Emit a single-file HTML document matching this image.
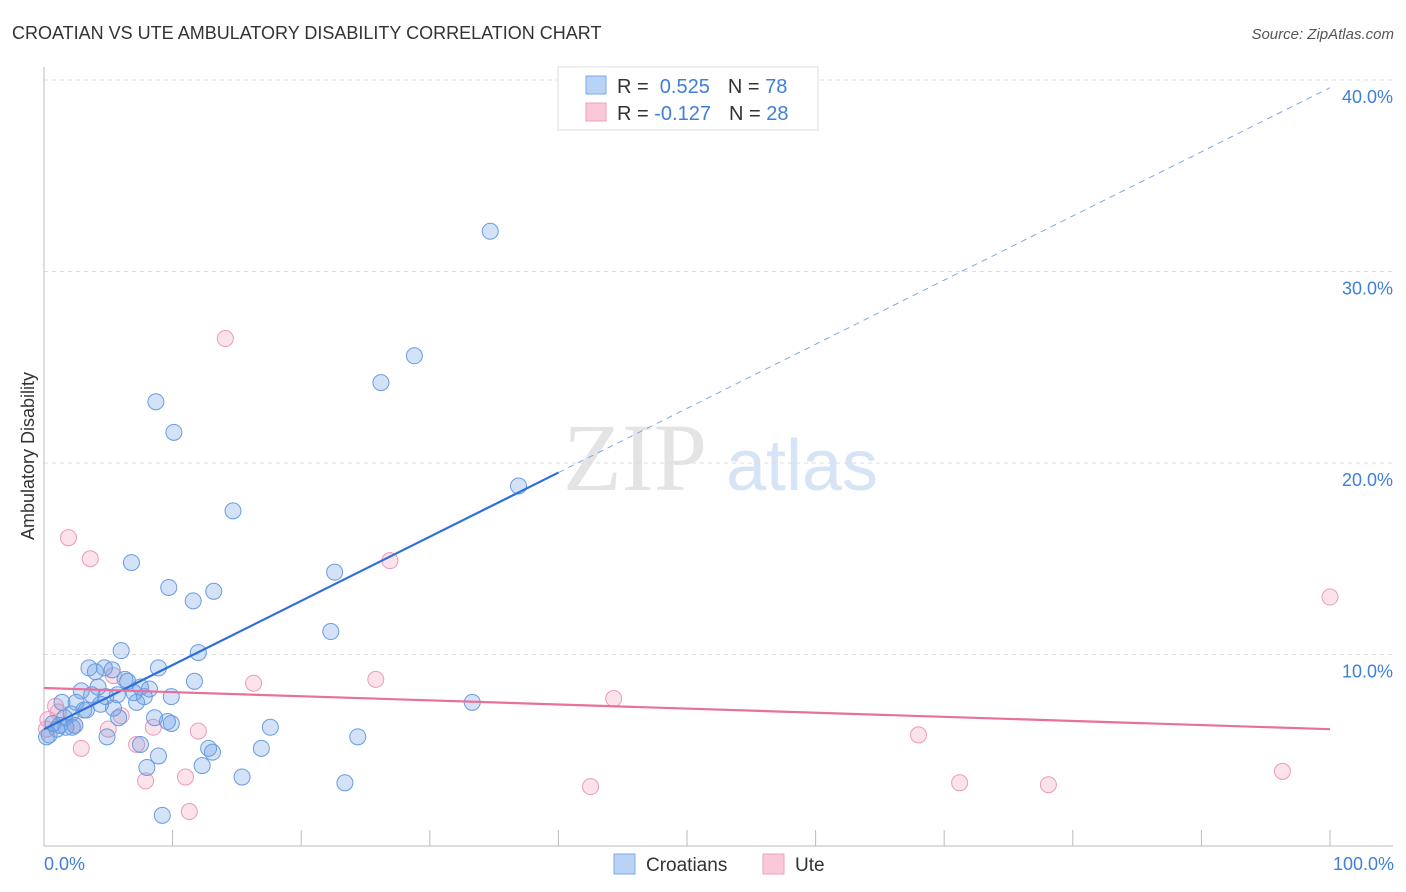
<!DOCTYPE html>
<html><head><meta charset="utf-8"><style>
body{margin:0;background:#fff;font-family:"Liberation Sans",sans-serif;}
svg{display:block}
</style></head><body>
<svg id="chart" width="1406" height="892" xmlns="http://www.w3.org/2000/svg">
<text x="12" y="39" font-size="18" fill="#333">CROATIAN VS UTE AMBULATORY DISABILITY CORRELATION CHART</text>
<text x="1394" y="39" font-size="15" fill="#555" font-style="italic" text-anchor="end">Source: ZipAtlas.com</text>
<g>
<text x="635" y="490" font-family="Liberation Serif,serif" font-size="96" fill="#e4e4e4" text-anchor="middle">ZIP</text>
<text x="802" y="490" font-size="72" fill="#d6e4f5" text-anchor="middle">atlas</text>
</g>
<g id="grid"></g>
<g id="axes"></g>
<g id="marks"></g>
<text transform="translate(34,456) rotate(-90)" font-size="18" fill="#333" text-anchor="middle">Ambulatory Disability</text>
<text x="44" y="870" font-size="18" fill="#3f7fd8">0.0%</text>
<text x="1394" y="870" font-size="18" fill="#3f7fd8" text-anchor="end">100.0%</text>
<g>
<rect x="558" y="67" width="260" height="63" fill="#fff" stroke="#ddd"/>
<rect x="586" y="76" width="20" height="18" fill="#b8d3f5" stroke="#7ea9e6"/>
<rect x="586" y="103" width="20" height="18" fill="#fac8d8" stroke="#eea0bb"/>
<text x="617" y="93" font-size="20" fill="#333">R = <tspan fill="#3f7fd8">&#160;0.525</tspan><tspan dx="18">N = </tspan><tspan fill="#3f7fd8">78</tspan></text>
<text x="617" y="120" font-size="20" fill="#333">R = <tspan fill="#3f7fd8">-0.127</tspan><tspan dx="18">N = </tspan><tspan fill="#3f7fd8">28</tspan></text>
</g>
<g>
<rect x="614" y="854" width="21" height="20" fill="#b8d3f5" stroke="#7ea9e6"/>
<text x="646" y="871" font-size="19" fill="#333">Croatians</text>
<rect x="763" y="854" width="21" height="20" fill="#fac8d8" stroke="#eea0bb"/>
<text x="795" y="871" font-size="19" fill="#333">Ute</text>
</g>
</svg>
<script>
const yTicks=[10,20,30,40];
const xTickCount=10;
const croatX=[34.7,28.8,26.2,8.7,10.1,36.9,14.7,6.8,22.6,9.7,13.2,11.6,22.3,6.0,12.0,8.9,3.5,4.7,5.3,4.0,6.3,6.5,11.7,2.9,8.2,7.5,4.2,3.7,4.8,5.7,7.0,7.8,9.9,1.4,2.5,3.3,4.4,5.4,7.2,33.3,2.1,3.1,1.6,5.8,8.6,9.6,9.9,0.7,1.2,2.2,1.0,0.4,0.2,17.6,4.9,7.5,24.4,12.8,13.1,16.9,8.9,8.0,12.3,15.4,23.4,9.2,1.7,2.4];
const croatY=[32.1,25.6,24.2,23.2,21.6,18.8,17.5,14.8,14.3,13.5,13.3,12.8,11.2,10.2,10.1,9.3,9.3,9.3,9.2,9.1,8.7,8.6,8.6,8.1,8.2,8.3,8.3,7.9,7.8,7.9,8.0,7.8,7.8,7.5,7.5,7.1,7.4,7.2,7.5,7.5,6.9,7.1,6.7,6.7,6.7,6.5,6.4,6.4,6.3,6.2,6.1,5.8,5.7,6.2,5.7,5.3,5.7,5.1,4.9,5.1,4.7,4.1,4.2,3.6,3.3,1.6,6.2,6.3];
const uteX=[14.1,1.9,3.6,26.9,100,16.3,25.8,44.3,5.4,0.9,1.1,2.4,6.0,5.0,8.5,12.0,7.2,2.9,68.0,11.0,7.9,71.2,78.1,96.3,42.5,11.3,0.3,0.2];
const uteY=[26.5,16.1,15.0,14.9,13.0,8.5,8.7,7.7,8.9,7.3,7.0,6.3,6.8,6.1,6.2,6.0,5.3,5.1,5.8,3.6,3.4,3.3,3.2,3.9,3.1,1.8,6.6,6.1];
const croatTrend=[6.1,39.6];
const uteTrend=[8.25,6.1];
const NS="http://www.w3.org/2000/svg";
const X=v=>44+v*12.86;
const Y=v=>846-v*19.15;
function mk(tag,attrs,parent){const e=document.createElementNS(NS,tag);for(const k in attrs)e.setAttribute(k,attrs[k]);document.getElementById(parent).appendChild(e);return e;}
yTicks.forEach(t=>{
 const g=mk('line',{x1:44,x2:1393,y1:Y(t),y2:Y(t),stroke:'#ddd','stroke-dasharray':'4,4'},'grid');
 
 
 const l=mk('text',{x:1393,y:Y(t)+23,'font-size':18,fill:'#3f7fd8','text-anchor':'end'},'grid');
 l.textContent=t.toFixed(1)+'%';
 
 
});
let a=mk('line',{x1:44,x2:44,y1:67,y2:846,stroke:'#bbb'},'axes');


a=mk('line',{x1:44,x2:1393,y1:846,y2:846,stroke:'#bbb'},'axes');


for(let i=1;i<=xTickCount;i++){
 const t=mk('line',{x1:X(i*10),x2:X(i*10),y1:830,y2:846,stroke:'#bbb'},'axes');
 
 
}
uteX.forEach((x,i)=>{
 const c=mk('circle',{cx:X(x),cy:Y(uteY[i]),r:8,fill:'rgba(244,160,190,0.3)',stroke:'#eb9bb8','stroke-width':1},'marks');
 
 
});
croatX.forEach((x,i)=>{
 const c=mk('circle',{cx:X(x),cy:Y(croatY[i]),r:8,fill:'rgba(110,160,230,0.3)',stroke:'#6a9be0','stroke-width':1},'marks');
 
 
});
const cy=v=>croatTrend[0]+(croatTrend[1]-croatTrend[0])*v/100;
let ln=mk('line',{x1:X(0),y1:Y(cy(0)),x2:X(40),y2:Y(cy(40)),stroke:'#2f6fd6','stroke-width':2.2},'marks');


ln=mk('line',{x1:X(40),y1:Y(cy(40)),x2:X(100),y2:Y(cy(100)),stroke:'#7ea9e6','stroke-width':1,'stroke-dasharray':'6,5'},'marks');


ln=mk('line',{x1:X(0),y1:Y(uteTrend[0]),x2:X(100),y2:Y(uteTrend[1]),stroke:'#e8709a','stroke-width':2.2},'marks');


</script>
</body></html>
